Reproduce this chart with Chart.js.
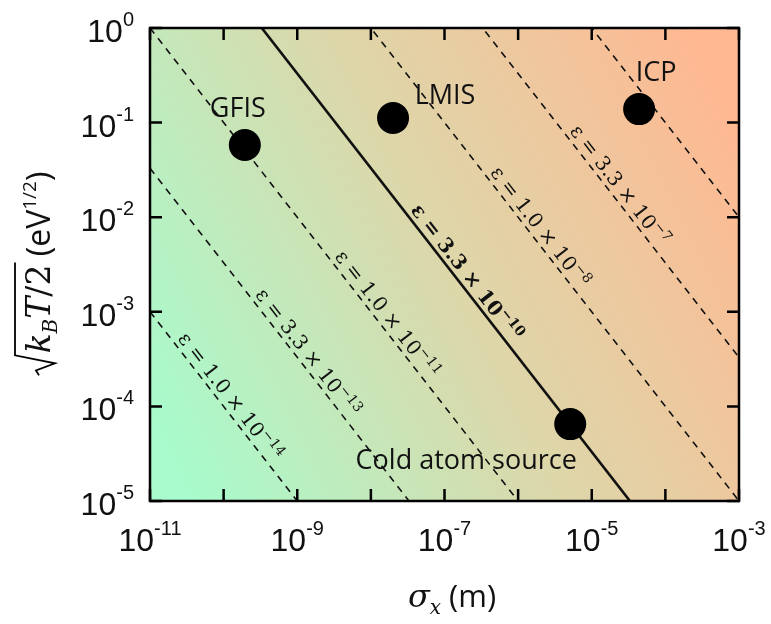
<!DOCTYPE html>
<html>
<head>
<meta charset="utf-8">
<script src="https://cdn.jsdelivr.net/npm/chart.js@4.4.1/dist/chart.umd.min.js"></script>
<style>
  html, body { margin: 0; padding: 0; background: #fff; }
</style>
</head>
<body>
<canvas id="emittance-chart" width="771" height="624"></canvas>
<script>
// axis ticks (decades) and which of them get a label
const xDecades = [-11, -10, -9, -8, -7, -6, -5, -4, -3];
const xLabelExps = ['-11', '-9', '-7', '-5', '-3'];
const yDecades = [0, -1, -2, -3, -4, -5];
const yLabelExps = ['0', '-1', '-2', '-3', '-4', '-5'];

// iso-emittance lines eps = sigma_x * sqrt(kT/2)
const emittance = [1.0e-14, 3.3e-13, 1.0e-11, 3.3e-10, 1.0e-8, 3.3e-7, 1.0e-5];
const epsMantissa = ['1.0', '3.3', '1.0', '3.3', '1.0', '3.3', null];
const epsExponent = ['−14', '−13', '−11', '−10', '−8', '−7', null];
const solidLine = 3; // eps = 3.3e-10 is drawn solid

// ion sources
const sourceNames = ['GFIS', 'LMIS', 'ICP', 'Cold atom source'];
const sourceSigma = [1.94e-10, 2.0e-8, 4.4e-5, 5.1e-6];
const sourceKT = [0.058, 0.112, 0.139, 6.5e-5];

// layout only: where the eps labels sit along their line, and label offsets
const epsLabelAt = [9.3e-11, 1.05e-9, 1.26e-8, 1.5e-7, 1.5e-6, 1.8e-5, null];
const sourceLabelOffset = [[-7, -28], [52, -14], [17, -28], [-104, 45]];

const X_MIN = 1e-11, X_MAX = 1e-3;

function drawPow(ctx, base, exp, x, y, opts) {
  // draws "10" with a raised exponent; align is 'center' or 'right'
  ctx.font = opts.mainFont;
  const w1 = ctx.measureText(base).width;
  ctx.font = opts.supFont;
  const w2 = ctx.measureText(exp).width;
  const total = w1 + w2;
  let x0 = opts.align === 'right' ? x - total : x - total / 2;
  ctx.textAlign = 'left';
  ctx.textBaseline = 'alphabetic';
  ctx.font = opts.mainFont;
  ctx.fillText(base, x0, y);
  ctx.font = opts.supFont;
  ctx.fillText(exp, x0 + w1, y - opts.raise);
}

const decorations = {
  id: 'decorations',
  beforeDatasetsDraw(chart) {
    const { ctx, chartArea: a } = chart;
    const g = ctx.createLinearGradient(a.left, a.bottom - 90, a.right, a.top + 90);
    g.addColorStop(0, '#a8fbcc');
    g.addColorStop(0.5, '#ddd7aa');
    g.addColorStop(1, '#ffb892');
    ctx.save();
    ctx.fillStyle = g;
    ctx.fillRect(a.left, a.top, a.width, a.height);
    ctx.restore();
  },
  afterDatasetsDraw(chart) {
    const { ctx } = chart;
    const xs = chart.scales.x, ys = chart.scales.y;
    ctx.save();
    ctx.fillStyle = '#111';

    // eps labels along the lines
    emittance.forEach((e, i) => {
      if (!epsMantissa[i]) return;
      const xa = epsLabelAt[i];
      const p1 = { x: xs.getPixelForValue(xa), y: ys.getPixelForValue(e / xa) };
      const p2 = { x: xs.getPixelForValue(xa * 10), y: ys.getPixelForValue(e / (xa * 10)) };
      const ang = Math.atan2(p2.y - p1.y, p2.x - p1.x);
      const weight = i === solidLine ? 'bold ' : '';
      const main = 'ε = ' + epsMantissa[i] + ' × 10';
      ctx.save();
      ctx.translate(p1.x, p1.y);
      ctx.rotate(ang);
      ctx.font = weight + '20px "DejaVu Serif"';
      const w1 = ctx.measureText(main).width;
      ctx.font = weight + '14px "DejaVu Serif"';
      const w2 = ctx.measureText(epsExponent[i]).width;
      const x0 = -(w1 + w2) / 2;
      ctx.textAlign = 'left';
      ctx.textBaseline = 'alphabetic';
      ctx.font = weight + '20px "DejaVu Serif"';
      ctx.fillText(main, x0, -5);
      ctx.font = weight + '14px "DejaVu Serif"';
      ctx.fillText(epsExponent[i], x0 + w1, -13);
      ctx.restore();
    });

    // source names
    ctx.font = '27px "Open Sans"';
    ctx.textAlign = 'center';
    ctx.textBaseline = 'alphabetic';
    sourceNames.forEach((name, i) => {
      const px = xs.getPixelForValue(sourceSigma[i]);
      const py = ys.getPixelForValue(sourceKT[i]);
      ctx.fillText(name, px + sourceLabelOffset[i][0], py + sourceLabelOffset[i][1]);
    });
    ctx.restore();
  },
  afterDraw(chart) {
    const { ctx, chartArea: a } = chart;
    const xs = chart.scales.x, ys = chart.scales.y;
    ctx.save();
    ctx.strokeStyle = '#000';
    ctx.fillStyle = '#111';

    // frame
    ctx.lineWidth = 2.5;
    ctx.strokeRect(a.left, a.top, a.width, a.height);

    // inward ticks on all four sides
    const tl = 12;
    ctx.beginPath();
    xDecades.forEach((d) => {
      const px = xs.getPixelForValue(Math.pow(10, d));
      ctx.moveTo(px, a.bottom); ctx.lineTo(px, a.bottom - tl);
      ctx.moveTo(px, a.top); ctx.lineTo(px, a.top + tl);
    });
    yDecades.forEach((d) => {
      const py = ys.getPixelForValue(Math.pow(10, d));
      ctx.moveTo(a.left, py); ctx.lineTo(a.left + tl, py);
      ctx.moveTo(a.right, py); ctx.lineTo(a.right - tl, py);
    });
    ctx.stroke();

    // tick labels
    const tickOpts = { mainFont: '32px "Liberation Sans"', supFont: '20px "Liberation Sans"' };
    xLabelExps.forEach((e) => {
      const px = xs.getPixelForValue(Math.pow(10, Number(e)));
      drawPow(ctx, '10', e, px, a.bottom + 50, { ...tickOpts, align: 'center', raise: 16 });
    });
    yLabelExps.forEach((e) => {
      const py = ys.getPixelForValue(Math.pow(10, Number(e)));
      drawPow(ctx, '10', e, a.left - 16, py + 14, { ...tickOpts, align: 'right', raise: 16 });
    });

    // x title: sigma_x (m)
    {
      const mathF = 'italic 32px "DejaVu Serif"', subF = 'italic 20px "DejaVu Serif"', sansF = '31px "Open Sans"';
      ctx.font = mathF; const w1 = ctx.measureText('σ').width;
      ctx.font = subF; const w2 = ctx.measureText('x').width;
      ctx.font = sansF; const w3 = ctx.measureText(' (m)').width;
      let x = 452 - (w1 + w2 + w3) / 2;
      const y = 607;
      ctx.textAlign = 'left'; ctx.textBaseline = 'alphabetic';
      ctx.font = mathF; ctx.fillText('σ', x, y); x += w1;
      ctx.font = subF; ctx.fillText('x', x, y + 7); x += w2;
      ctx.font = sansF; ctx.fillText(' (m)', x, y);
    }

    // y title: sqrt(k_B T/2) (eV^{1/2}), rotated
    {
      const mathF = 'italic 33px "DejaVu Serif"', subF = 'italic 20px "DejaVu Serif"',
        upF = '33px "DejaVu Serif"', sansF = '32px "Open Sans"', supF = '19px "Open Sans"';
      const parts = [
        ['k', mathF, 0], ['B', subF, 7], ['T', mathF, 0], ['/2', upF, 0],
        [' (eV', sansF, 0], ['1/2', supF, -14], [')', sansF, 0],
      ];
      const radW = 23;
      let total = radW;
      parts.forEach((p) => { ctx.font = p[1]; p.push(ctx.measureText(p[0]).width); total += p[3]; });
      ctx.translate(50, 274);
      ctx.rotate(-Math.PI / 2);
      let x = -total / 2;
      const sx = x;
      x += radW;
      const radEnd = x + parts.slice(0, 4).reduce((s, p) => s + p[3], 0) + 2;
      ctx.lineWidth = 1.8;
      ctx.lineJoin = 'miter';
      ctx.beginPath();
      ctx.moveTo(sx + 1, -11);
      ctx.lineTo(sx + 6, -14);
      ctx.lineTo(sx + 13, 5);
      ctx.lineTo(sx + 21, -35);
      ctx.lineTo(radEnd, -35);
      ctx.stroke();
      ctx.textAlign = 'left'; ctx.textBaseline = 'alphabetic';
      parts.forEach((p) => {
        ctx.font = p[1];
        ctx.fillText(p[0], x, p[2]);
        x += p[3];
      });
    }
    ctx.restore();
  },
};

const lineSets = emittance.map((e, i) => ({
  data: [{ x: X_MIN, y: e / X_MIN }, { x: X_MAX, y: e / X_MAX }],
  showLine: true,
  borderColor: '#111',
  borderWidth: i === solidLine ? 2.6 : 1.6,
  borderDash: i === solidLine ? [] : [7, 6],
  pointRadius: 0,
  order: 1,
}));

const pointSet = {
  data: sourceSigma.map((s, i) => ({ x: s, y: sourceKT[i] })),
  backgroundColor: '#000',
  borderWidth: 0,
  pointRadius: 16,
  pointHoverRadius: 16,
  order: 0,
};

const ctx = document.getElementById('emittance-chart').getContext('2d');
new Chart(ctx, {
  type: 'scatter',
  data: { datasets: [pointSet, ...lineSets] },
  options: {
    responsive: false,
    animation: false,
    layout: { padding: { left: 150, top: 28, right: 32, bottom: 123 } },
    plugins: { legend: { display: false }, tooltip: { enabled: false } },
    scales: {
      x: { type: 'logarithmic', min: X_MIN, max: X_MAX, display: false },
      y: { type: 'logarithmic', min: 1e-5, max: 1, display: false },
    },
  },
  plugins: [decorations],
});
</script>
</body>
</html>
